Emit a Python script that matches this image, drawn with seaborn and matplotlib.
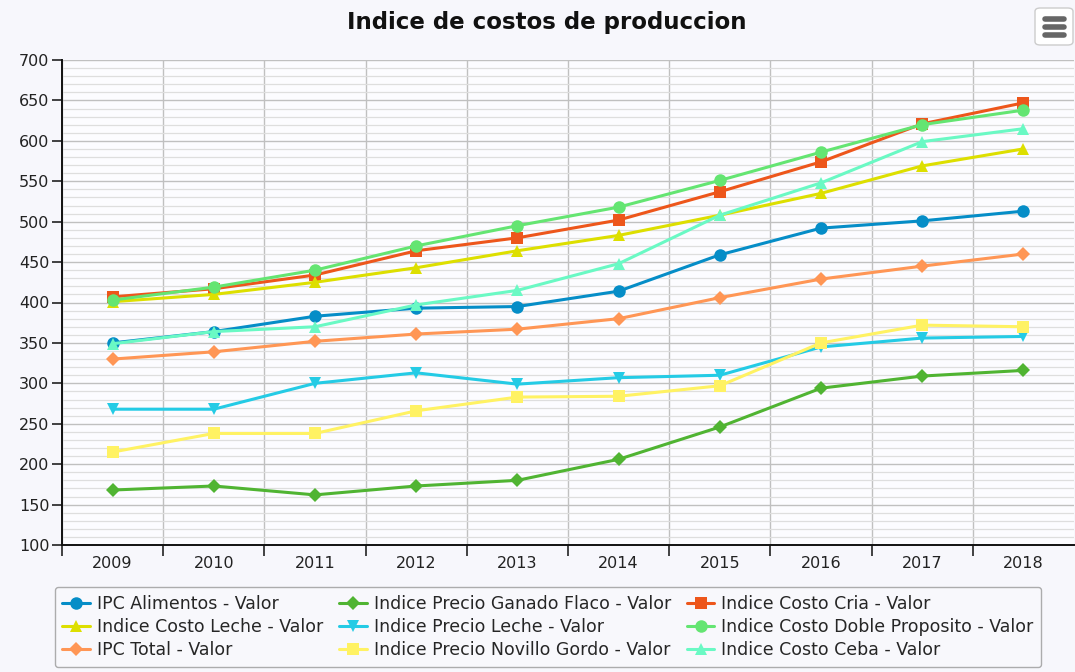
import matplotlib
matplotlib.use("Agg")
import matplotlib.pyplot as plt
from matplotlib.patches import FancyBboxPatch
from matplotlib.lines import Line2D
import seaborn as sns
import pandas as pd

years = ["2009", "2010", "2011", "2012", "2013", "2014", "2015", "2016", "2017", "2018"]

ipc_alimentos = [350, 364, 383, 393, 395, 414, 459, 492, 501, 513]
precio_ganado_flaco = [168, 173, 162, 173, 180, 206, 246, 294, 309, 316]
costo_cria = [407, 417, 434, 464, 480, 502, 537, 574, 621, 647]
costo_leche = [401, 410, 425, 443, 464, 483, 508, 535, 569, 590]
precio_leche = [268, 268, 300, 313, 299, 307, 310, 345, 356, 358]
costo_doble_proposito = [403, 419, 440, 470, 495, 518, 551, 586, 620, 638]
ipc_total = [330, 339, 352, 361, 367, 380, 406, 429, 445, 460]
precio_novillo_gordo = [215, 238, 238, 266, 283, 284, 297, 350, 372, 370]
costo_ceba = [349, 364, 370, 397, 415, 448, 508, 548, 599, 615]

series = [
    ("IPC Alimentos - Valor", ipc_alimentos, "#058DC7", "o"),
    ("Indice Precio Ganado Flaco - Valor", precio_ganado_flaco, "#50B432", "D"),
    ("Indice Costo Cria - Valor", costo_cria, "#ED561B", "s"),
    ("Indice Costo Leche - Valor", costo_leche, "#DDDF00", "^"),
    ("Indice Precio Leche - Valor", precio_leche, "#24CBE5", "v"),
    ("Indice Costo Doble Proposito - Valor", costo_doble_proposito, "#64E572", "o"),
    ("IPC Total - Valor", ipc_total, "#FF9655", "D"),
    ("Indice Precio Novillo Gordo - Valor", precio_novillo_gordo, "#FFF263", "s"),
    ("Indice Costo Ceba - Valor", costo_ceba, "#6AF9C4", "^"),
]

sns.set_style("white")
plt.rcParams["font.family"] = ["DejaVu Sans"]

fig = plt.figure(figsize=(10.75, 6.72), dpi=100, facecolor="#f7f7fc")
ax = fig.add_axes([62 / 1075, 1 - 545 / 672, 1012 / 1075, 485 / 672])
ax.set_facecolor("#fcfcff")

x = list(range(len(years)))
handles = []
for name, vals, color, mk in series:
    ms = 7.5 if mk == "D" else 9
    df = pd.DataFrame({"x": x, "y": vals})
    sns.lineplot(data=df, x="x", y="y", ax=ax, color=color, linewidth=2.2,
                 marker=mk, markersize=ms, markeredgewidth=0, label=name,
                 legend=False, zorder=3)
    handles.append(Line2D([0], [0], color=color, lw=2.2, marker=mk,
                          markersize=ms, markeredgewidth=0, label=name))

ax.set_xlim(-0.5, 9.5)
ax.set_ylim(100, 700)
ax.set_xticks(x)
ax.set_xticklabels(years)
ax.set_xticks([i + 0.5 for i in range(-1, 9)], minor=True)
ax.set_yticks(range(100, 701, 50))
ax.set_yticks(range(100, 701, 10), minor=True)
ax.tick_params(axis="x", which="major", length=0, labelsize=11.5, pad=8, colors="#222222")
ax.tick_params(axis="x", which="minor", length=8, width=1.2, color="#222222", direction="out", bottom=True)
ax.tick_params(axis="y", which="major", length=7, width=1.2, labelsize=11.5, pad=2, colors="#222222", left=True)
ax.tick_params(axis="y", which="minor", length=0)
ax.grid(True, axis="x", which="minor", color="#c0c0c0", lw=1)
ax.grid(True, axis="y", which="major", color="#c0c0c0", lw=1)
ax.grid(True, axis="y", which="minor", color="#dedede", lw=0.9)
ax.set_axisbelow(True)
for s in ["top", "right"]:
    ax.spines[s].set_visible(False)
for s in ["left", "bottom"]:
    ax.spines[s].set_color("#111111")
    ax.spines[s].set_linewidth(1.4)
ax.set_xlabel("")
ax.set_ylabel("")

fig.text(0.509, 1 - 23 / 672, "Indice de costos de produccion", ha="center", va="center",
         fontsize=16.5, fontweight="bold", color="#111111")

# row-wise order for a column-filled legend
order = [0, 3, 6, 1, 4, 7, 2, 5, 8]
leg = fig.legend([handles[i] for i in order], [handles[i].get_label() for i in order],
                 loc="center", bbox_to_anchor=(548 / 1075, 1 - 627 / 672), ncol=3,
                 fontsize=12.5, frameon=True, fancybox=True, handlelength=1.6,
                 handletextpad=0.4, columnspacing=0.9, labelspacing=0.3,
                 borderpad=0.45, borderaxespad=0, facecolor="#f9f9fd", edgecolor="#999999")
leg.get_frame().set_linewidth(1)

# export menu button
btn = FancyBboxPatch((1035 / 1075, 1 - 45 / 672), 38 / 1075, 37 / 672,
                     boxstyle="round,pad=0,rounding_size=0.005", transform=fig.transFigure,
                     facecolor="white", edgecolor="#cccccc", lw=1)
fig.patches.append(btn)
for yy in (19, 27, 35):
    fig.lines.append(Line2D([1045 / 1075, 1064 / 1075], [1 - yy / 672] * 2,
                            transform=fig.transFigure, color="#666666", lw=4,
                            solid_capstyle="round"))

fig.savefig("out.png", dpi=100, facecolor=fig.get_facecolor())
